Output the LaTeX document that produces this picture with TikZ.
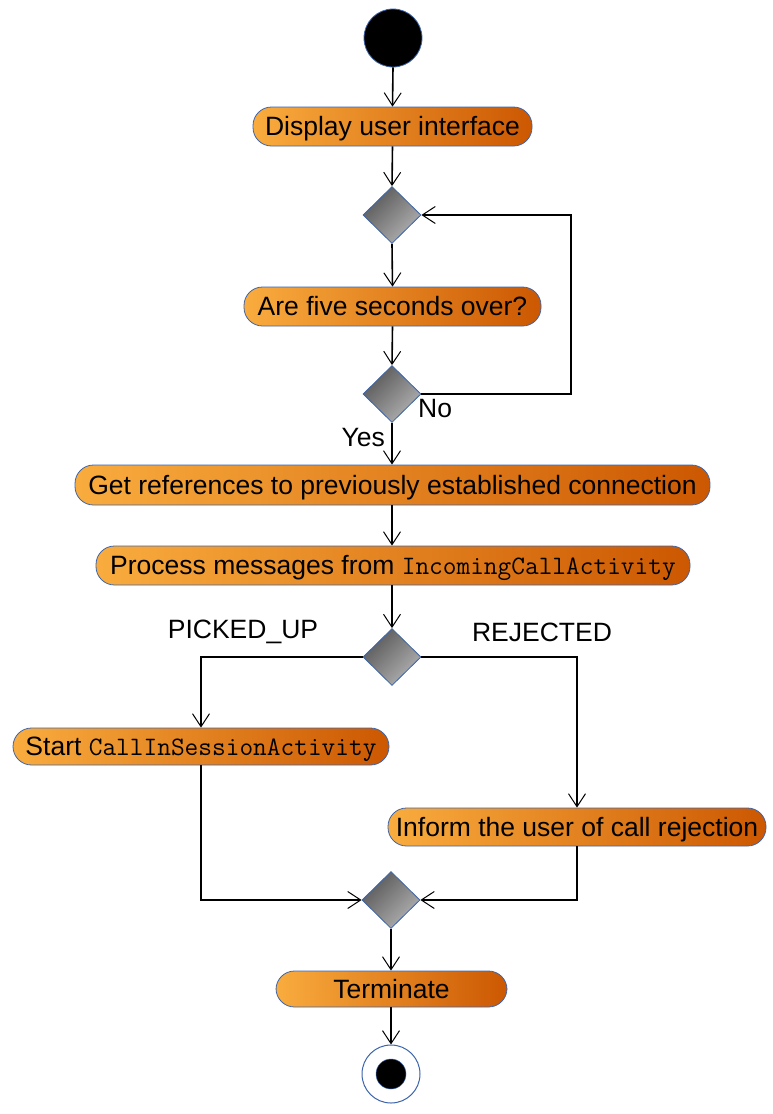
\documentclass[tikz,border=0pt]{standalone}
\usepackage{fontspec}
\setmainfont{Liberation Sans}
\usetikzlibrary{arrows.meta,shapes.geometric}
\definecolor{olight}{RGB}{249,172,62}
\definecolor{odark}{RGB}{204,88,2}
\definecolor{gdark}{RGB}{88,88,88}
\definecolor{glight}{RGB}{178,178,178}
\definecolor{bord}{RGB}{60,100,170}
\newcommand{\monotext}[1]{{\ttfamily\fontsize{26.6}{30}\selectfont #1}}
\begin{document}
\begin{tikzpicture}[x=1pt,y=-1pt,
  act/.style={rectangle, rounded corners=18.5pt, draw=bord, line width=0.8pt,
    left color=olight, right color=odark, inner sep=0pt, text=black,
    text height=18pt, text depth=0pt,
    font=\fontsize{26.5}{30}\selectfont},
  dec/.style={diamond, draw=bord, line width=0.8pt, top color=gdark, bottom color=glight,
    shading angle=45, minimum width=58pt, minimum height=57pt, inner sep=0pt},
  arr/.style={draw=black, line width=1.6pt, -{Straight Barb[length=13pt,width=17pt,line width=1pt]}},
  lbl/.style={font=\fontsize{26.5}{30}\selectfont, inner sep=0pt}]
\useasboundingbox (0,0) rectangle (773,1114);
\node[circle, fill=black, draw=bord, line width=0.8pt, minimum size=58pt, inner sep=0pt] (start) at (393,38) {};
\node[act, minimum width=279pt, minimum height=39pt] (b1) at (392.5,126.5) {Display user interface};
\node[dec] (d1) at (392,215) {};
\node[act, minimum width=297pt, minimum height=39pt] (b2) at (392.5,306.5) {Are five seconds over?};
\node[dec] (d2) at (392,394) {};
\node[act, minimum width=635pt, minimum height=40pt] (b3) at (392.5,485) {Get references to previously established connection};
\node[act, minimum width=594pt, minimum height=39pt] (b4) at (393,565.5) {Process messages from \monotext{IncomingCallActivity}};
\node[dec] (d3) at (392,657) {};
\node[act, minimum width=376pt, minimum height=37pt] (b5) at (201,746.5) {Start \monotext{CallInSessionActivity}};
\node[act, minimum width=378pt, minimum height=38pt] (b6) at (577,827) {Inform the user of call rejection};
\node[dec] (d4) at (391,900) {};
\node[act, minimum width=231pt, minimum height=36pt] (b7) at (391.5,989) {Terminate};
\node[circle, fill=white, draw=bord, line width=1pt, minimum size=58pt, inner sep=0pt] (end) at (391,1074) {};
\node[circle, fill=black, draw=bord, line width=0.5pt, minimum size=30pt, inner sep=0pt] (endin) at (391,1074) {};
\coordinate (loopR) at (571,215);

\draw[arr] (start.south) -- (b1.north);
\draw[arr] (b1.south) -- (d1.north);
\draw[arr] (d1.south) -- (b2.north);
\draw[arr] (b2.south) -- (d2.north);
\draw[arr] (d2.east) -| (loopR) -- (d1.east);
\draw[arr] (d2.south) -- (b3.north -| d2.south);
\draw[arr] (b3.south -| d2.south) -- (b4.north -| d2.south);
\draw[arr] (b4.south -| d3.north) -- (d3.north);
\draw[arr] (d3.west) -| (b5.north);
\draw[arr] (d3.east) -| (b6.north);
\draw[arr] (b5.south) |- (d4.west);
\draw[arr] (b6.south) |- (d4.east);
\draw[arr] (d4.south) -- (b7.north -| d4.south);
\draw[arr] (b7.south -| d4.south) -- (end.north);

\node[lbl, anchor=west] (no) at (418,409) {No};
\node[lbl, anchor=east] (yes) at (385,438) {Yes};
\node[lbl] (picked) at (243,632) {PICKED\_UP};
\node[lbl] (rejected) at (542,632) {REJECTED};
\end{tikzpicture}
\end{document}
